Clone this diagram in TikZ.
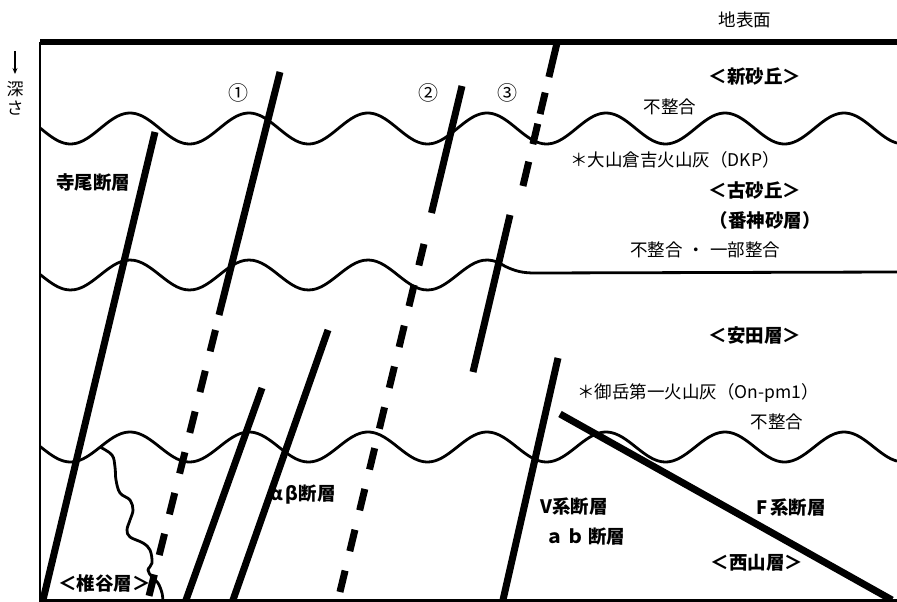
\documentclass[tikz,border=0pt]{standalone}
\usepackage{fontspec}
\newfontfamily\jp{Noto Sans CJK JP}
\usetikzlibrary{arrows.meta}
\begin{document}
\begin{tikzpicture}[x=1pt,y=-1pt,
  fault/.style={line width=7pt},
  dfault/.style={line width=7pt, dash pattern=on 22pt off 20pt},
  bound/.style={line width=2.8pt},
  frame/.style={line width=5.5pt},
  lbl/.style={font=\jp\fontsize{17.5}{18}\selectfont, inner sep=0pt},
  blbl/.style={font=\jp\bfseries\fontsize{18.5}{19}\selectfont, inner sep=0pt},
  num/.style={font=\jp\fontsize{20}{20}\selectfont, inner sep=0pt}]
\useasboundingbox (0,0) rectangle (897,602);
\fill[white] (0,0) rectangle (897,602);

% frame: ground surface, left edge, base
\draw[frame] (40,42) -- (897,42);
\draw[line width=2.2pt] (40,42) -- (40,602);
\draw[line width=3pt] (40,600.5) -- (897,600.5);

% unconformities (period 119, crest at x = 130)
\draw[bound] plot[domain=40:897,samples=180,smooth] (\x,{128.5-15.5*cos((\x-130)/119*360)});
\draw[bound] plot[domain=40:505,samples=110,smooth] (\x,{275-15*cos((\x-130)/119*360)})
  .. controls (515,271) and (522,273) .. (535,273) -- (897,272);
\draw[bound] plot[domain=40:897,samples=180,smooth] (\x,{447-15*cos((\x-130)/119*360)});

% boundary of the Shiiya formation
\draw[bound] plot[smooth, tension=0.6] coordinates {(100,447) (112,455) (115,467) (116,480) (120,493) (130,500) (133,510) (130,520) (127,530) (130,537) (143,543) (150,550) (152,563) (148,570) (152,577) (158,583) (162,593) (163,602)};

% faults
\coordinate (tA) at (155,132); \coordinate (bA) at (43,600);
\draw[fault] (tA) -- (bA);
\coordinate (tB) at (280,72); \coordinate (mB) at (219,315); \coordinate (nB) at (215.5,330); \coordinate (bB) at (148,600);
\draw[fault] (tB) -- (mB);
\draw[dfault] (nB) -- (bB);
\coordinate (tC) at (262,388); \coordinate (bC) at (186,600);
\draw[fault] (tC) -- (bC);
\coordinate (tD) at (328,330); \coordinate (bD) at (233,600);
\draw[fault] (tD) -- (bD);
\coordinate (tE) at (462,86); \coordinate (mE) at (431.5,213); \coordinate (nE) at (424,244); \coordinate (bE) at (338,600);
\draw[fault] (tE) -- (mE);
\draw[dfault] (nE) -- (bE);
\coordinate (tF) at (557,43); \coordinate (mF) at (522,190);
\draw[line width=7pt, dash pattern=on 35pt off 16pt on 22pt off 10pt on 21pt off 18pt on 25pt off 30pt] (tF) -- (mF);
\coordinate (sF) at (510,215); \coordinate (bF) at (473,372);
\draw[fault] (sF) -- (bF);
\coordinate (tG) at (558,358); \coordinate (bG) at (503,600);
\draw[fault] (tG) -- (bG);
\coordinate (tH) at (560,414); \coordinate (bH) at (892,600);
\draw[fault] (tH) -- (bH);

% depth indicator
\coordinate (aTop) at (15,51); \coordinate (aTip) at (15,74);
\draw[line width=1.3pt, -{Stealth[length=6pt,width=5pt]}] (aTop) -- (aTip);
\node[lbl, font=\jp\fontsize{17}{17}\selectfont] (fuka) at (15,89) {深};
\node[lbl, font=\jp\fontsize{17}{17}\selectfont] (sa) at (15,108) {さ};

% labels
\node[lbl] (surface) at (745,20) {地表面};
\node[num] (n1) at (238,93) {①};
\node[num] (n2) at (428,93) {②};
\node[num] (n3) at (507,93) {③};
\node[blbl] (shinsakyu) at (755,77) {＜新砂丘＞};
\node[lbl] (fu1) at (670,107) {不整合};
\node[lbl, anchor=west] (dkp) at (570,160) {＊大山倉吉火山灰（DKP）};
\node[blbl] (kosakyu) at (755,190) {＜古砂丘＞};
\node[blbl] (banjin) at (765,220) {（番神砂層）};
\node[lbl, anchor=west] (fu2) at (630,250) {不整合\hspace{5pt}・\hspace{5pt}一部整合};
\node[blbl] (yasuda) at (755,335) {＜安田層＞};
\node[lbl, anchor=west] (onpm) at (577,393) {＊御岳第一火山灰（On-pm1）};
\node[lbl] (fu3) at (777,422) {不整合};
\node[blbl] (terao) at (93,182) {寺尾断層};
\node[blbl, anchor=west] (ab) at (270,495) {α\,β断層};
\node[blbl, anchor=west] (vsys) at (540,507) {V系断層};
\node[blbl, anchor=west] (abd) at (545,537) {ａ\,ｂ\,断層};
\node[blbl] (fsys) at (791,508) {F\,系断層};
\node[blbl] (nishiyama) at (757,563) {＜西山層＞};
\node[blbl, anchor=west] (shiiya) at (58,583) {＜椎谷層＞};
\end{tikzpicture}
\end{document}
